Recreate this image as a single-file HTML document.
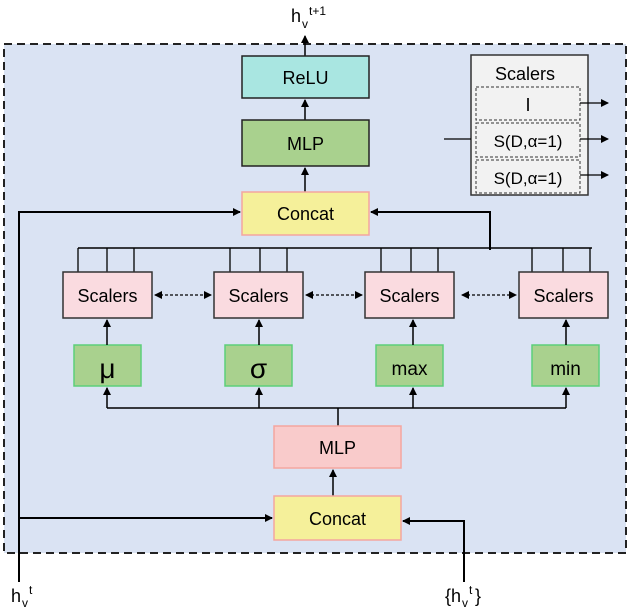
<!DOCTYPE html>
<html><head><meta charset="utf-8"><style>
body{margin:0;background:#fff;}
svg text{font-family:"Liberation Sans",sans-serif;}
</style></head><body>
<svg width="630" height="607" viewBox="0 0 630 607" xmlns="http://www.w3.org/2000/svg">
<defs>
<marker id="a" markerWidth="8" markerHeight="8" refX="7" refY="4" orient="auto" markerUnits="userSpaceOnUse"><path d="M0,0 L8,4 L0,8 z" fill="#000"/></marker>
<marker id="s" markerWidth="8" markerHeight="8" refX="1" refY="4" orient="auto" markerUnits="userSpaceOnUse"><path d="M8,0 L0,4 L8,8 z" fill="#000"/></marker>
</defs>
<rect x="4" y="44" width="622" height="509" fill="#dae3f3" stroke="#222" stroke-width="2" stroke-dasharray="8,5"/>
<line x1="305" y1="56" x2="305" y2="36" stroke="#000" stroke-width="1.5" marker-end="url(#a)"/>
<text x="291" y="22" font-size="18">h</text><text x="302" y="28" font-size="12">v</text><text x="309" y="15" font-size="12">t+1</text>
<rect x="242" y="56" width="127" height="42" fill="#a9e6e1" stroke="#222" stroke-width="1.5"/>
<text x="305.5" y="84" font-size="18" text-anchor="middle">ReLU</text>
<line x1="305" y1="120" x2="305" y2="100" stroke="#000" stroke-width="1.5" marker-end="url(#a)"/>
<rect x="242" y="120" width="127" height="46" fill="#a9d18e" stroke="#222" stroke-width="1.5"/>
<text x="305.5" y="150" font-size="18" text-anchor="middle">MLP</text>
<line x1="305" y1="192" x2="305" y2="168" stroke="#000" stroke-width="1.5" marker-end="url(#a)"/>
<rect x="242" y="192" width="127" height="43" fill="#f5f09a" stroke="#f4a6a0" stroke-width="1.5"/>
<text x="305.5" y="220" font-size="18" text-anchor="middle">Concat</text>
<!-- inset scalers -->
<rect x="471" y="55" width="117" height="140" fill="#f2f2f2" stroke="#333" stroke-width="1.5"/>
<text x="525" y="80" font-size="18" text-anchor="middle">Scalers</text>
<rect x="476" y="87" width="104" height="33" fill="#f2f2f2" stroke="#333" stroke-dasharray="3,2"/>
<text x="528" y="111" font-size="18" text-anchor="middle">I</text>
<rect x="476" y="123" width="104" height="34" fill="#f2f2f2" stroke="#333" stroke-dasharray="3,2"/>
<text x="528" y="147" font-size="17" text-anchor="middle">S(D,α=1)</text>
<rect x="476" y="160" width="104" height="33" fill="#f2f2f2" stroke="#333" stroke-dasharray="3,2"/>
<text x="528" y="184" font-size="17" text-anchor="middle">S(D,α=1)</text>
<line x1="444" y1="139" x2="471" y2="139" stroke="#000" stroke-width="1.2"/>
<line x1="580" y1="103" x2="608" y2="103" stroke="#000" stroke-width="1.2" marker-end="url(#a)"/>
<line x1="580" y1="139" x2="608" y2="139" stroke="#000" stroke-width="1.2" marker-end="url(#a)"/>
<line x1="580" y1="175" x2="608" y2="175" stroke="#000" stroke-width="1.2" marker-end="url(#a)"/>
<polyline points="19,582 19,212 240,212" fill="none" stroke="#000" stroke-width="2" marker-end="url(#a)"/>
<line x1="19" y1="518" x2="272" y2="518" stroke="#000" stroke-width="2" marker-end="url(#a)"/>
<polyline points="490,250 490,212 371,212" fill="none" stroke="#000" stroke-width="2" marker-end="url(#a)"/>
<line x1="78" y1="248" x2="592" y2="248" stroke="#000" stroke-width="1.5"/>
<g stroke="#000" stroke-width="1.3">
<line x1="78" y1="248" x2="78" y2="272"/><line x1="107" y1="248" x2="107" y2="272"/><line x1="134" y1="248" x2="134" y2="272"/>
<line x1="230" y1="248" x2="230" y2="272"/><line x1="260" y1="248" x2="260" y2="272"/><line x1="287" y1="248" x2="287" y2="272"/>
<line x1="381" y1="248" x2="381" y2="272"/><line x1="411" y1="248" x2="411" y2="272"/><line x1="438" y1="248" x2="438" y2="272"/>
<line x1="532" y1="248" x2="532" y2="272"/><line x1="563" y1="248" x2="563" y2="272"/><line x1="590" y1="248" x2="590" y2="272"/>
</g>
<g fill="#fadbe0" stroke="#333" stroke-width="1.5">
<rect x="63" y="272" width="89" height="46"/><rect x="214" y="272" width="89" height="46"/>
<rect x="365" y="272" width="89" height="46"/><rect x="519" y="272" width="89" height="46"/>
</g>
<g font-size="18" text-anchor="middle">
<text x="107.5" y="302">Scalers</text><text x="258.5" y="302">Scalers</text>
<text x="409.5" y="302">Scalers</text><text x="563.5" y="302">Scalers</text>
</g>
<g stroke="#000" stroke-width="1.2" stroke-dasharray="3,2">
<line x1="155" y1="295" x2="211" y2="295" marker-start="url(#s)" marker-end="url(#a)"/>
<line x1="306" y1="295" x2="362" y2="295" marker-start="url(#s)" marker-end="url(#a)"/>
<line x1="462" y1="295" x2="516" y2="295" marker-start="url(#s)" marker-end="url(#a)"/>
</g>
<g fill="#a9d18e" stroke="#5ccf7a" stroke-width="1.5">
<rect x="74" y="345" width="67" height="41"/><rect x="225" y="345" width="67" height="41"/>
<rect x="376" y="345" width="67" height="41"/><rect x="532" y="345" width="67" height="41"/>
</g>
<g text-anchor="middle">
<text x="107.5" y="378" font-size="28">μ</text><text x="258.5" y="378" font-size="28">σ</text>
<text x="409.5" y="375" font-size="19">max</text><text x="565.5" y="375" font-size="19">min</text>
</g>
<g stroke="#000" stroke-width="1.5">
<line x1="107" y1="345" x2="107" y2="320" marker-end="url(#a)"/>
<line x1="259" y1="345" x2="259" y2="320" marker-end="url(#a)"/>
<line x1="413" y1="345" x2="413" y2="320" marker-end="url(#a)"/>
<line x1="566" y1="345" x2="566" y2="320" marker-end="url(#a)"/>
<line x1="107" y1="408" x2="566" y2="408"/>
<line x1="107" y1="408" x2="107" y2="388" marker-end="url(#a)"/>
<line x1="259" y1="408" x2="259" y2="388" marker-end="url(#a)"/>
<line x1="413" y1="408" x2="413" y2="388" marker-end="url(#a)"/>
<line x1="566" y1="408" x2="566" y2="388" marker-end="url(#a)"/>
<line x1="338" y1="408" x2="338" y2="426"/>
<line x1="333" y1="496" x2="333" y2="470" marker-end="url(#a)"/>
</g>
<rect x="274" y="426" width="127" height="42" fill="#f9cbcb" stroke="#f4a6a0" stroke-width="1.5"/>
<text x="337.5" y="454" font-size="18" text-anchor="middle">MLP</text>
<rect x="274" y="496" width="127" height="44" fill="#f5f09a" stroke="#f4a6a0" stroke-width="1.5"/>
<text x="337.5" y="525" font-size="18" text-anchor="middle">Concat</text>
<polyline points="464,582 464,521 403,521" fill="none" stroke="#000" stroke-width="2" marker-end="url(#a)"/>
<text x="11" y="602" font-size="18">h</text><text x="22" y="607" font-size="12">v</text><text x="29" y="594" font-size="12">t</text>
<text x="445" y="602" font-size="18">{h</text><text x="462" y="607" font-size="12">v</text><text x="469" y="594" font-size="12">t</text><text x="475" y="602" font-size="18">}</text>
</svg>
</body></html>
